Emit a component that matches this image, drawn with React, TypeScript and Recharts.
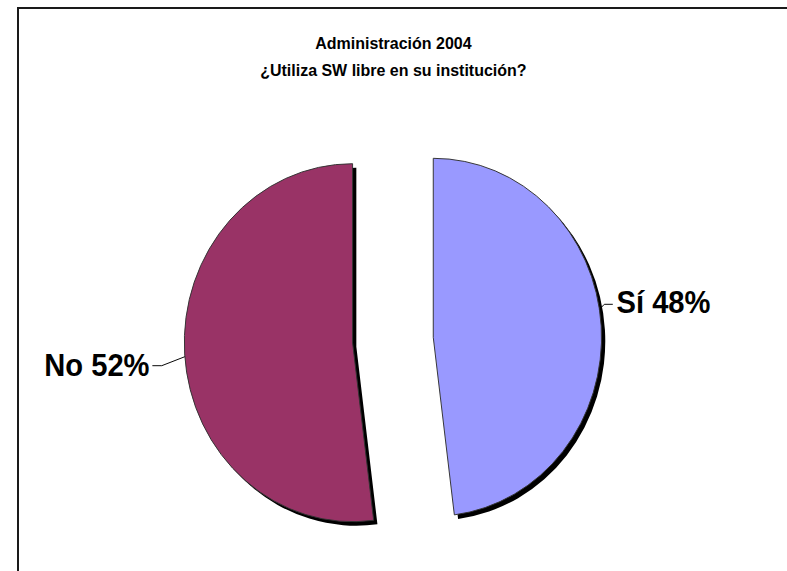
import { PieChart, Pie, Cell } from "recharts";

const NAMES = ["Sí", "No"];
const VALUES = [48, 52];
const COLORS = ["#9999FF", "#993366"];
const TITLE_LINES = ["Administración 2004", "¿Utiliza SW libre en su institución?"];

const W = 787;
const H = 571;
// the original picture is slightly squeezed horizontally
const SQUEEZE = 0.94;
const IW = Math.round(W / SQUEEZE);
const CX = 413;
const CY = 335;
const R = 179;
const EXPLODE = 43;
const SHADOW = 4;

const data = NAMES.map((name, i) => ({ name, value: VALUES[i] }));
const total = VALUES.reduce((a, b) => a + b, 0);

// mid angle of each slice (ccw from 3 o'clock, slices run clockwise from 12 o'clock)
const midAngles = VALUES.map((v, i) => {
  const before = VALUES.slice(0, i).reduce((a, b) => a + b, 0);
  return 90 - (360 * (before + v / 2)) / total;
});
const offsets = midAngles.map(a => {
  const rad = (a * Math.PI) / 180;
  return { dx: EXPLODE * Math.cos(rad), dy: -EXPLODE * Math.sin(rad) };
});

const FONT = "'Liberation Sans', Arial, sans-serif";

function renderLabel(target: number) {
  return (props: any) => {
    const { cx, cy, outerRadius, index, name, percent } = props;
    if (index !== target) return null;
    const txt = `${name} ${Math.round(percent * 100)}%`;
    if (target === 0) {
      const ay = cy - 28;
      const ax = cx + Math.sqrt(outerRadius * outerRadius - 28 * 28);
      return (
        <g>
          <polyline points={`${ax},${ay} ${cx + outerRadius + 3},${cy - 33} ${cx + outerRadius + 12},${cy - 33}`}
            fill="none" stroke="#000" strokeWidth={1} />
          <text x={cx + outerRadius + 16} y={cy - 24} fontFamily={FONT} fontWeight="bold" fontSize={31} fill="#000" textAnchor="start">
            {txt}
          </text>
        </g>
      );
    }
    const ay = cy + 14;
    const ax = cx - Math.sqrt(outerRadius * outerRadius - 14 * 14);
    return (
      <g>
        <polyline points={`${ax},${ay} ${cx - outerRadius - 24},${cy + 23} ${cx - outerRadius - 34},${cy + 23}`}
          fill="none" stroke="#000" strokeWidth={1} />
        <text x={cx - outerRadius - 37} y={cy + 33} fontFamily={FONT} fontWeight="bold" fontSize={31} fill="#000" textAnchor="end">
          {txt}
        </text>
      </g>
    );
  };
}

export default function App() {
  return (
    <div style={{ position: "fixed", left: 0, top: 0, width: W, height: H, overflow: "hidden", background: "#fff" }}>
      <style>{"html,body{margin:0;overflow:hidden}"}</style>
      <div style={{ position: "absolute", left: 17, top: 7, width: W - 17, height: H - 7, borderTop: "2px solid #1a1a1a", borderLeft: "2px solid #1a1a1a", boxSizing: "border-box" }} />
      <div style={{ position: "absolute", left: 0, top: 0, width: IW, height: H, transform: `scaleX(${SQUEEZE})`, transformOrigin: "0 0" }}>
        <div style={{ position: "absolute", left: 0, top: 30, width: IW, textAlign: "center", fontFamily: FONT, fontWeight: "bold", fontSize: 17, lineHeight: "27px", color: "#000" }}>
          {TITLE_LINES.map(l => <div key={l}>{l}</div>)}
        </div>
        <div style={{ position: "absolute", left: 0, top: 0 }}>
          <PieChart width={IW} height={H}>
            {NAMES.map((n, t) => (
              <Pie key={`sh-${n}`} data={data} dataKey="value" nameKey="name"
                cx={CX + offsets[t].dx + SHADOW} cy={CY + offsets[t].dy + SHADOW} outerRadius={R}
                startAngle={90} endAngle={-270} isAnimationActive={false} label={false} labelLine={false}>
                {data.map((d, i) => (
                  <Cell key={d.name} fill={i === t ? "#000" : "transparent"} stroke="none" />
                ))}
              </Pie>
            ))}
            {NAMES.map((n, t) => (
              <Pie key={`pie-${n}`} data={data} dataKey="value" nameKey="name"
                cx={CX + offsets[t].dx} cy={CY + offsets[t].dy} outerRadius={R}
                startAngle={90} endAngle={-270} isAnimationActive={false}
                label={renderLabel(t)} labelLine={false}>
                {data.map((d, i) => (
                  <Cell key={d.name} fill={i === t ? COLORS[i] : "transparent"} stroke={i === t ? "#333" : "none"} strokeWidth={1} />
                ))}
              </Pie>
            ))}
          </PieChart>
        </div>
      </div>
    </div>
  );
}
